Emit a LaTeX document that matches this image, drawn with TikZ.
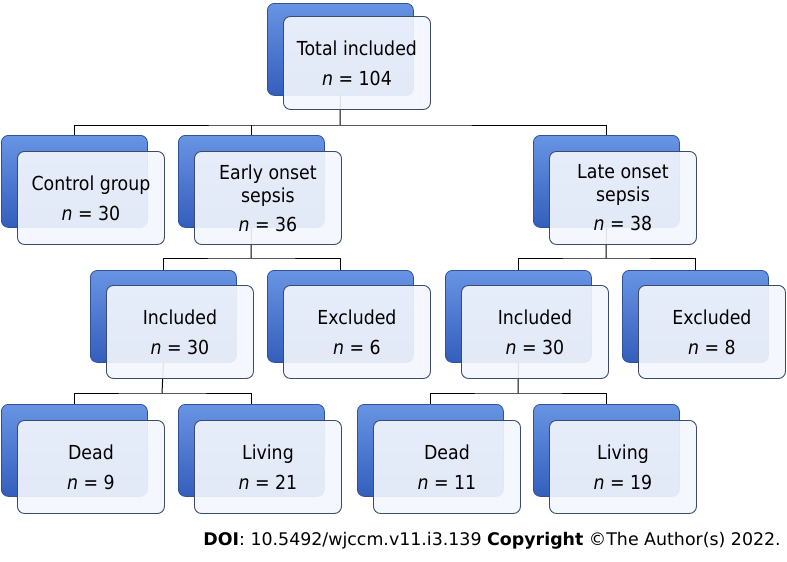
\documentclass[tikz,border=0pt]{standalone}
\usepackage{fontspec}
\setmainfont{DejaVu Sans}
\newfontfamily\boxfont[FakeStretch=0.9]{DejaVu Sans}
\definecolor{blueT}{RGB}{104,148,228}
\definecolor{blueB}{RGB}{52,94,188}
\definecolor{blueD}{RGB}{48,82,150}
\definecolor{frontF}{RGB}{244,247,253}
\definecolor{frontD}{RGB}{60,76,104}
\tikzset{
  backbox/.style={anchor=north west, minimum width=146pt, minimum height=92pt, rounded corners=7pt,
    draw=blueD, line width=0.8pt, top color=blueT, bottom color=blueB, inner sep=0pt},
  frontbox/.style={anchor=north west, minimum width=147pt, minimum height=93pt, rounded corners=7pt,
    draw=frontD, line width=0.9pt, fill=frontF, fill opacity=0.91, text opacity=1,
    align=center, inner sep=0pt, font=\boxfont\fontsize{19.3}{24}\selectfont},
  conn/.style={draw=black, line width=1pt}
}
\newcommand{\nn}[1]{{\itshape n} = #1}
\begin{document}
\begin{tikzpicture}[x=1pt,y=-1pt]
\useasboundingbox[fill=white] (0,0) rectangle (787,562);
% back boxes
\node[backbox] (T) at (267,3) {};
\node[backbox] (C) at (1,135) {};
\node[backbox] (E) at (178,135) {};
\node[backbox] (L) at (533,135) {};
\node[backbox] (I1) at (90,270) {};
\node[backbox] (X1) at (267,270) {};
\node[backbox] (I2) at (445,270) {};
\node[backbox] (X2) at (622,270) {};
\node[backbox] (D1) at (1,404) {};
\node[backbox] (V1) at (178,404) {};
\node[backbox] (D2) at (357,404) {};
\node[backbox] (V2) at (533,404) {};
% connectors
\coordinate (j1) at (340,125);
\coordinate (j2) at (251,258);
\coordinate (j3) at (606,258);
\coordinate (j4) at (162,393);
\coordinate (j5) at (518,393);
\draw[conn] (T.south) -- (j1);
\draw[conn] (C.north) |- (j1) -| (L.north);
\draw[conn] (E.north) -- (E.north |- j1);
\draw[conn] (E.south) -- (j2);
\draw[conn] (I1.north) |- (j2) -| (X1.north);
\draw[conn] (L.south) -- (j3);
\draw[conn] (I2.north) |- (j3) -| (X2.north);
\draw[conn] (I1.south) -- (j4);
\draw[conn] (D1.north) |- (j4) -| (V1.north);
\draw[conn] (I2.south) -- (j5);
\draw[conn] (D2.north) |- (j5) -| (V2.north);
% front boxes
\node[frontbox] (Tf) at (283,16) {Total included\\[6pt]\nn{104}};
\node[frontbox] (Cf) at (17,151) {Control group\\[6pt]\nn{30}};
\node[frontbox] (Ef) at (194,151) {Early onset\\[-1pt]sepsis\\[5pt]\nn{36}};
\node[frontbox] (Lf) at (549,151) {Late onset\\[-1pt]sepsis\\[5pt]\nn{38}};
\node[frontbox] (I1f) at (106,285) {Included\\[6pt]\nn{30}};
\node[frontbox] (X1f) at (283,285) {Excluded\\[6pt]\nn{6}};
\node[frontbox] (I2f) at (461,285) {Included\\[6pt]\nn{30}};
\node[frontbox] (X2f) at (638,285) {Excluded\\[6pt]\nn{8}};
\node[frontbox] (D1f) at (17,420) {Dead\\[6pt]\nn{9}};
\node[frontbox] (V1f) at (194,420) {Living\\[6pt]\nn{21}};
\node[frontbox] (D2f) at (373,420) {Dead\\[6pt]\nn{11}};
\node[frontbox] (V2f) at (549,420) {Living\\[6pt]\nn{19}};
% footer
\node[anchor=east, inner sep=0pt, font=\fontsize{17.4}{20}\selectfont] (doi) at (781,541)
  {\textbf{DOI}: 10.5492/wjccm.v11.i3.139 \textbf{Copyright} ©The Author(s) 2022.};
\end{tikzpicture}
\end{document}
